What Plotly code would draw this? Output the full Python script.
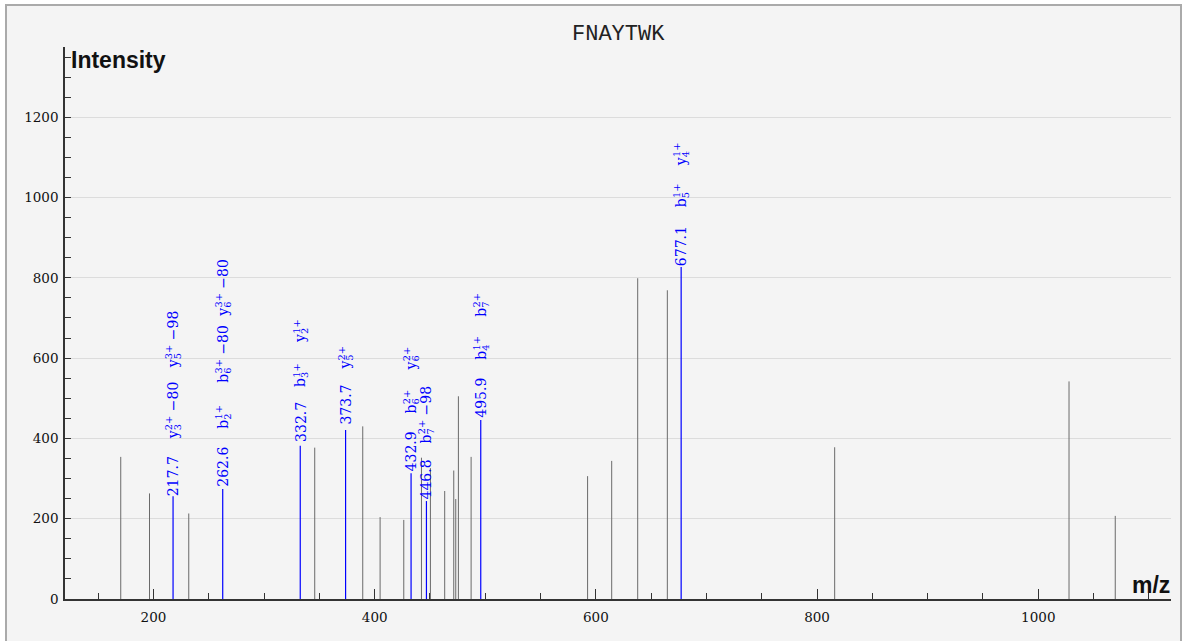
import plotly.graph_objects as go

# ---------------- data ----------------
title_text = "FNAYTWK"

# unannotated peaks (m/z, intensity)
gray_mz = [170.4, 196.4, 231.9, 345.8, 389.2, 404.9, 426.3, 442.3, 450.4, 463.3,
           471.5, 473.3, 475.7, 487.2, 592.5, 614.3, 637.8, 664.6, 815.9, 1027.8, 1069.6]
gray_int = [354, 263, 213, 377, 430, 204, 197, 352, 326, 269,
            320, 249, 505, 354, 306, 344, 799, 769, 378, 542, 207]

# annotated peaks
blue_mz = [217.7, 262.6, 332.7, 373.7, 432.9, 446.8, 495.9, 677.1]
blue_int = [256, 274, 382, 421, 313, 244, 446, 827]
# fragment ion labels for each annotated peak: (ion, index, charge, neutral loss)
blue_ions = [
    [("y", 3, "2+", "80"), ("y", 5, "3+", "98")],
    [("b", 2, "1+", ""), ("b", 6, "3+", "80"), ("y", 6, "3+", "80")],
    [("b", 3, "1+", ""), ("y", 2, "1+", "")],
    [("y", 5, "2+", "")],
    [("b", 6, "2+", ""), ("y", 6, "2+", "")],
    [("b", 7, "2+", "98")],
    [("b", 4, "1+", ""), ("b", 7, "2+", "")],
    [("b", 5, "1+", ""), ("y", 4, "1+", "")],
]

x_tick_step = 200
y_tick_step = 200

# ---------------- layout constants ----------------
W, H = 1188, 641
ML, MR, MT, MB = 65, 17, 47, 42
PW, PH = W - ML - MR, H - MT - MB
X_RANGE = [120, 1120]
Y_RANGE = [0, 1375]
# vertical stacking of labels (pixels from peak top to label centre)
LABEL_CENTRES = [
    [20, 86, 157],
    [22, 72, 135, 201],
    [24, 71, 115],
    [25, 72],
    [22, 72, 115],
    [22, 87],
    [22, 72, 115],
    [21, 72, 113],
]
BG = "#f4f4f4"
AX = "#333333"

def sticks(xs, ys):
    sx, sy = [], []
    for x, y in zip(xs, ys):
        sx += [x, x, None]
        sy += [0, y, None]
    return sx, sy

fig = go.Figure()
gx, gy = sticks(gray_mz, gray_int)
fig.add_trace(go.Scatter(x=gx, y=gy, mode="lines", line=dict(color="#6a6a6a", width=1),
                         hoverinfo="skip", showlegend=False))
bx, by = sticks(blue_mz, blue_int)
fig.add_trace(go.Scatter(x=bx, y=by, mode="lines", line=dict(color="#0000ff", width=1.2),
                         hoverinfo="skip", showlegend=False))

def ion_label(ion, idx, ch, loss):
    # subscript index and superscript charge stacked (negative letter-spacing pulls
    # the superscript back over the subscript)
    s = (f"{ion}<sub style='letter-spacing:-6px'>{idx}</sub>"
         f"<sup>{ch}</sup>")
    if loss:
        s += f" \u2212{loss}"
    return s

ann_font = dict(family="DejaVu Serif", size=14, color="#0000ff")
for mz, inten, ions, offs in zip(blue_mz, blue_int, blue_ions, LABEL_CENTRES):
    texts = [f"{mz:.1f}"] + [ion_label(*i) for i in ions]
    for t, off in zip(texts, offs):
        fig.add_annotation(x=mz, y=inten, xref="x", yref="y", text=t, showarrow=False,
                           textangle=-90, xanchor="center", yanchor="middle",
                           yshift=off, font=ann_font)

# title and axis captions
fig.add_annotation(x=0.5, y=1, xref="paper", yref="paper", text=title_text, showarrow=False,
                   xanchor="center", yanchor="middle", yshift=12.5,
                   font=dict(family="Liberation Mono", size=22, color="#222222"))
fig.add_annotation(x=0, y=1, xref="paper", yref="paper", text="<b>Intensity</b>", showarrow=False,
                   xanchor="left", yanchor="top", xshift=4, yshift=2,
                   font=dict(family="Liberation Sans", size=23, color="#111111"))
fig.add_annotation(x=1, y=0, xref="paper", yref="paper", text="<b>m/z</b>", showarrow=False,
                   xanchor="right", yanchor="bottom", xshift=1, yshift=-1,
                   font=dict(family="Liberation Sans", size=23, color="#111111"))

# outer frame
fig.add_shape(type="rect", xref="paper", yref="paper",
              x0=(6 - ML) / PW, x1=(1181 - ML) / PW,
              y0=(H - MT - 700) / PH, y1=(H - MB - 5) / PH,
              line=dict(color="#aaaaaa", width=2), fillcolor=BG, layer="below")

tick_font = dict(family="DejaVu Serif", size=13.5, color="#111111")
fig.update_xaxes(range=X_RANGE, dtick=x_tick_step, tick0=0, ticks="inside", ticklen=10,
                 tickcolor=AX, tickwidth=1, showline=True, linecolor=AX, linewidth=1.5,
                 showgrid=False, zeroline=False, tickfont=tick_font, ticklabelstandoff=5,
                 minor=dict(dtick=50, tick0=0, ticks="inside", ticklen=6, tickcolor=AX,
                            tickwidth=1, showgrid=False))
fig.update_yaxes(range=Y_RANGE, dtick=y_tick_step, tick0=0, ticks="inside", ticklen=6,
                 tickcolor=AX, tickwidth=1, showline=True, linecolor=AX, linewidth=1.5,
                 showgrid=True, gridcolor="#dcdcdc", gridwidth=1, zeroline=False,
                 tickfont=tick_font, ticklabelstandoff=2,
                 minor=dict(dtick=50, tick0=0, ticks="inside", ticklen=6, tickcolor=AX,
                            tickwidth=1, showgrid=False))

fig.update_layout(width=W, height=H, margin=dict(l=ML, r=MR, t=MT, b=MB, pad=0),
                  paper_bgcolor="#ffffff", plot_bgcolor=BG, showlegend=False)

fig.write_html("out.html", config={"displayModeBar": False},
               post_script="document.body.style.margin='0';document.body.style.padding='0';")
